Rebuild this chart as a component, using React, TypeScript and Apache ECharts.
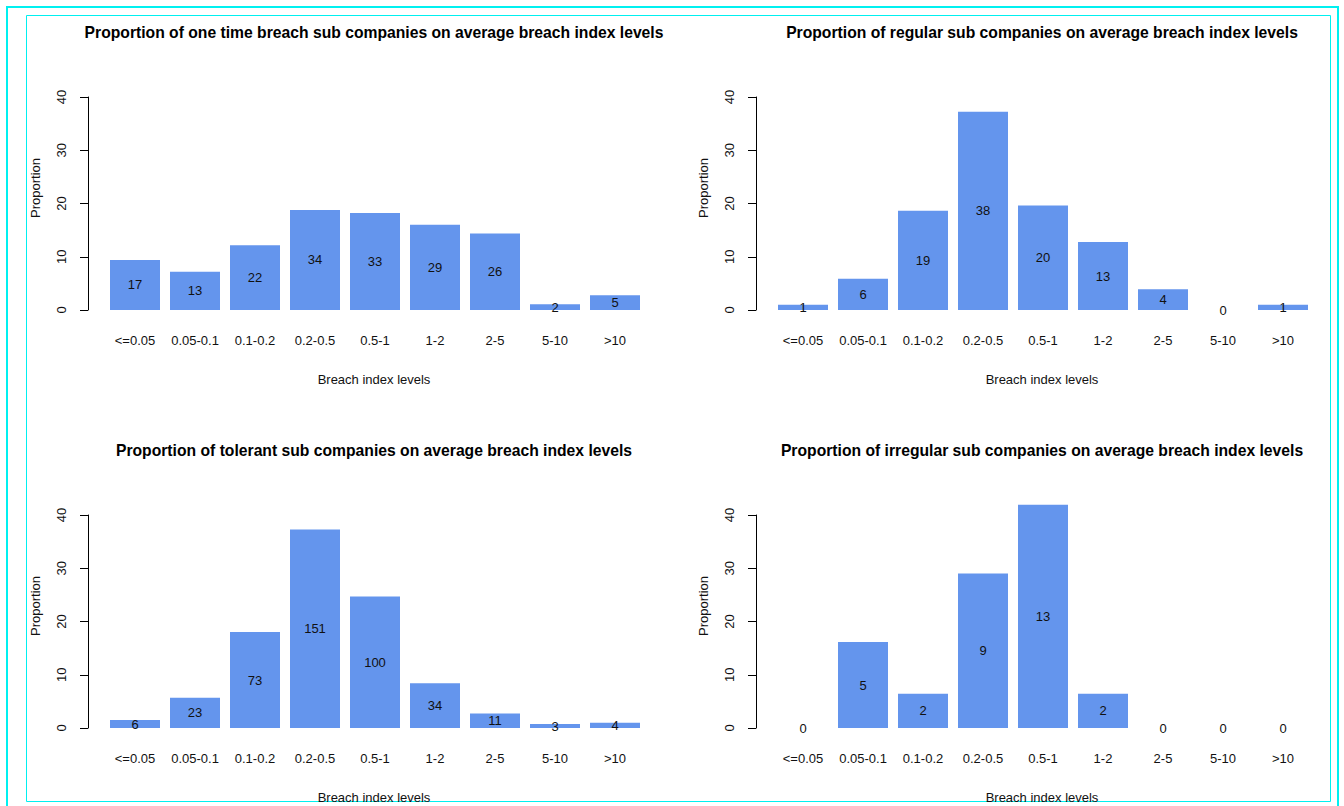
import React, { useEffect, useRef } from "react";
import * as echarts from "echarts";

const categories = ["<=0.05", "0.05-0.1", "0.1-0.2", "0.2-0.5", "0.5-1", "1-2", "2-5", "5-10", ">10"];

const oneTimeProp = [9.39, 7.18, 12.15, 18.78, 18.23, 16.02, 14.36, 1.1, 2.76];
const oneTimeCount = [17, 13, 22, 34, 33, 29, 26, 2, 5];

const regularProp = [0.98, 5.88, 18.63, 37.25, 19.61, 12.75, 3.92, 0, 0.98];
const regularCount = [1, 6, 19, 38, 20, 13, 4, 0, 1];

const tolerantProp = [1.48, 5.68, 18.02, 37.28, 24.69, 8.4, 2.72, 0.74, 0.99];
const tolerantCount = [6, 23, 73, 151, 100, 34, 11, 3, 4];

const irregularProp = [0, 16.13, 6.45, 29.03, 41.94, 6.45, 0, 0, 0];
const irregularCount = [0, 5, 2, 9, 13, 2, 0, 0, 0];

const yTicks = { min: 0, max: 40, interval: 10 };

const panels = [
  { title: "Proportion of one time breach sub companies on average breach index levels", prop: oneTimeProp, count: oneTimeCount, dx: 0, dy: 0 },
  { title: "Proportion of regular sub companies on average breach index levels", prop: regularProp, count: regularCount, dx: 668, dy: 0 },
  { title: "Proportion of tolerant sub companies on average breach index levels", prop: tolerantProp, count: tolerantCount, dx: 0, dy: 418 },
  { title: "Proportion of irregular sub companies on average breach index levels", prop: irregularProp, count: irregularCount, dx: 668, dy: 418 },
];

const FONT = '"Liberation Sans", Arial, Helvetica, sans-serif';
const BAR = "#6495ED";
const FS = 13;

export default function App() {
  const ref = useRef<HTMLDivElement>(null);
  useEffect(() => {
    if (!ref.current) return;
    const chart = echarts.init(ref.current, undefined, { renderer: "svg" });
    const grid: any[] = [];
    const xAxis: any[] = [];
    const yAxis: any[] = [];
    const series: any[] = [];
    const graphic: any[] = [
      { type: "rect", shape: { x: 7, y: 7, width: 1331, height: 812 }, style: { fill: "none", stroke: "#00f0f0", lineWidth: 2 }, silent: true },
      { type: "rect", shape: { x: 26.5, y: 15.5, width: 1304, height: 786 }, style: { fill: "none", stroke: "#00f0f0", lineWidth: 1 }, silent: true },
    ];
    panels.forEach((p, i) => {
      grid.push({ left: 105 + p.dx, top: 97 + p.dy, width: 540, height: 213 });
      xAxis.push({
        type: "category",
        gridIndex: i,
        data: categories,
        axisLine: { show: false },
        axisTick: { show: false },
        axisLabel: { interval: 0, margin: 24, fontSize: FS, color: "#111", fontFamily: FONT },
      });
      yAxis.push({
        type: "value",
        gridIndex: i,
        min: yTicks.min,
        max: yTicks.max,
        interval: yTicks.interval,
        offset: 17,
        splitLine: { show: false },
        axisLine: { show: true, lineStyle: { color: "#000", width: 1 } },
        axisTick: { show: true, length: 8, lineStyle: { color: "#000", width: 1 } },
        axisLabel: { rotate: 90, margin: 20, fontSize: FS, color: "#111", fontFamily: FONT },
      });
      series.push({
        type: "bar",
        xAxisIndex: i,
        yAxisIndex: i,
        data: p.prop,
        barWidth: 50,
        clip: false,
        itemStyle: { color: BAR },
        label: {
          show: true,
          position: "inside",
          fontSize: FS,
          color: "#111",
          fontFamily: FONT,
          formatter: (d: any) => String(p.count[d.dataIndex]),
        },
      });
      graphic.push(
        {
          type: "text",
          x: 374 + p.dx,
          y: 32 + p.dy,
          style: { text: p.title, fontSize: 15.7, fontWeight: "bold", fontFamily: FONT, fill: "#000", textAlign: "center", textVerticalAlign: "middle" },
          silent: true,
        },
        {
          type: "text",
          x: 374 + p.dx,
          y: 379 + p.dy,
          style: { text: "Breach index levels", fontSize: FS, fontFamily: FONT, fill: "#111", textAlign: "center", textVerticalAlign: "middle" },
          silent: true,
        },
        {
          type: "text",
          x: 35.5 + p.dx,
          y: 188 + p.dy,
          rotation: Math.PI / 2,
          style: { text: "Proportion", fontSize: FS, fontFamily: FONT, fill: "#111", textAlign: "center", textVerticalAlign: "middle" },
          silent: true,
        }
      );
    });
    chart.setOption({
      animation: false,
      backgroundColor: "#fff",
      grid,
      xAxis,
      yAxis,
      series,
      graphic,
    });
    return () => chart.dispose();
  }, []);
  return <div ref={ref} style={{ position: "fixed", left: 0, top: 0, width: 1344, height: 806 }} />;
}
